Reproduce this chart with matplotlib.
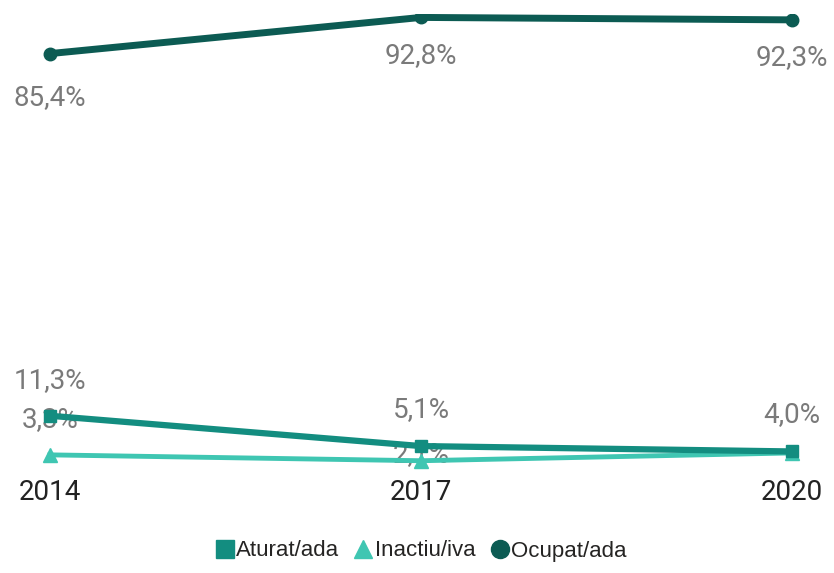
import matplotlib
matplotlib.use('Agg')
import matplotlib.pyplot as plt
from matplotlib.lines import Line2D

# Data
years = [2014, 2017, 2020]
aturat = [11.3, 5.1, 4.0]
inactiu = [3.3, 2.1, 3.7]
ocupat = [85.4, 92.8, 92.3]
tick_labels = ['2014', '2017', '2020']

c_aturat = '#138d80'
c_inactiu = '#3fc6b2'
c_ocupat = '#0c5b53'
label_color = '#7a7a7a'

fig = plt.figure(figsize=(8.34, 5.73), dpi=100)
ax = fig.add_axes([20 / 834, 1 - 471 / 573, 802 / 834, 457 / 573])

ax.plot(years, inactiu, color=c_inactiu, linewidth=3.5, marker='^', markersize=10, zorder=3)
ax.plot(years, aturat, color=c_aturat, linewidth=4.5, marker='s', markersize=9, zorder=4)
ax.plot(years, ocupat, color=c_ocupat, linewidth=5, marker='o', markersize=9, zorder=5)

ax.set_xlim(2014 - 30 / 123.67, 2020 + 30 / 123.67)
ax.set_ylim(0, 93.5)


def fmt(v):
    return f'{v:.1f}%'.replace('.', ',')


lab_font = dict(family='Roboto', fontsize=20, color=label_color, ha='center', va='center', zorder=1)

# Ocupat labels below points
for x, v, dy in zip(years, ocupat, [-44, -38, -38]):
    ax.annotate(fmt(v), (x, v), xytext=(0, dy * 0.72), textcoords='offset points', **lab_font)

# Aturat labels above points
for x, v, dy in zip(years, aturat, [35, 37, 37]):
    ax.annotate(fmt(v), (x, v), xytext=(0, dy * 0.72), textcoords='offset points', **lab_font)

# Inactiu labels (2020 label hidden behind the others in the original)
for x, v, dy in zip(years[:2], inactiu[:2], [35, 6]):
    ax.annotate(fmt(v), (x, v), xytext=(0, dy * 0.72), textcoords='offset points', **lab_font)

ax.set_xticks(years)
ax.set_xticklabels(tick_labels, fontsize=20, family='Roboto', color='#222222')
ax.tick_params(axis='x', length=0, pad=6)
ax.set_yticks([])
for s in ax.spines.values():
    s.set_visible(False)

handles = [
    Line2D([], [], linestyle='none', marker='s', markersize=13, color=c_aturat, label='Aturat/ada'),
    Line2D([], [], linestyle='none', marker='^', markersize=13, color=c_inactiu, label='Inactiu/iva'),
    Line2D([], [], linestyle='none', marker='o', markersize=13, color=c_ocupat, label='Ocupat/ada'),
]
fig.legend(handles=handles, loc='center', bbox_to_anchor=(420 / 834, 1 - 551 / 573), ncol=3,
           frameon=False, handletextpad=0.0, columnspacing=0.6, handlelength=1.0,
           prop={'family': 'Liberation Sans', 'size': 16}, labelcolor='#252423')

fig.savefig('out.png', dpi=100)
